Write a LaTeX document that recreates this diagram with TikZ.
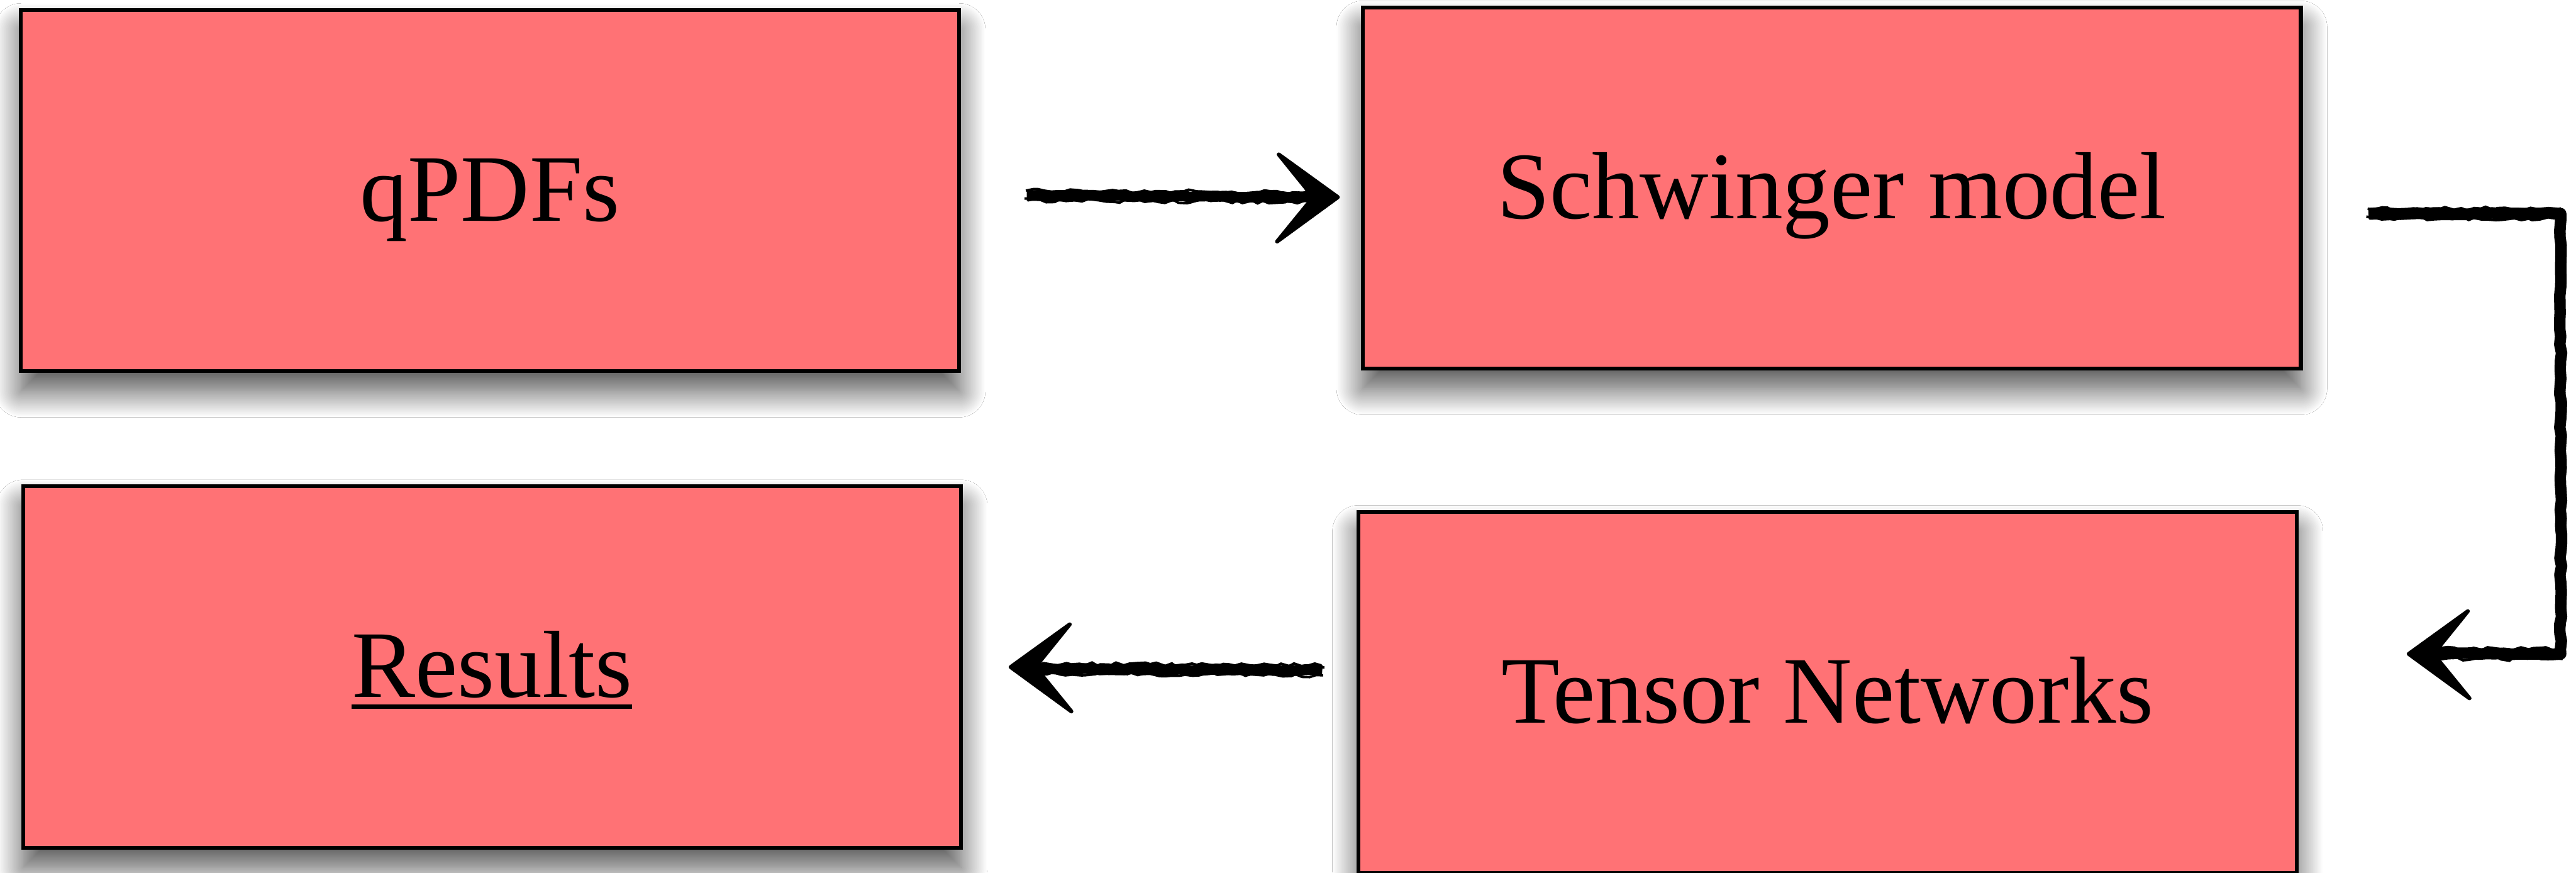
\documentclass[tikz,border=0pt]{standalone}
\usepackage{fontspec}
\setmainfont{Liberation Serif}
\usetikzlibrary{calc,shadows.blur,decorations.pathmorphing}
\definecolor{boxred}{RGB}{255,114,117}
\newcommand\mythickul[1]{\setbox0\hbox{#1}\rlap{\rule[-7pt]{\wd0}{2.6pt}}\box0}
\newcommand\roughpath[2]{%
  \draw[sketchmain,line width=#1] #2;
  \foreach \dx/\dy in {1.3/1.8,-1.3/-1.8,0.5/-3,-0.5/3}{%
    \draw[sketchthin,transform canvas={xshift=\dx pt,yshift=\dy pt}] #2;}%
}
\newcommand\chevron[2]{% tip name, direction (+1 right-pointing, -1 left-pointing)
  \filldraw[line width=2.4pt,line join=round]
    (#1) -- ($(#1)+(-36*#2,-26)$) -- ($(#1)+(-15*#2,0)$) -- ($(#1)+(-37*#2,27)$) -- cycle;
}
\begin{document}
\begin{tikzpicture}[x=1pt,y=-1pt,
  box/.style={rectangle, draw=black, line width=2.3pt, fill=boxred,
    minimum width=571pt, minimum height=220pt, inner sep=0pt,
    text height=37pt, text depth=0pt,
    font=\fontsize{58}{62}\selectfont,
    blur shadow={shadow xshift=0pt, shadow yshift=-12pt, shadow blur radius=16pt,
      shadow blur steps=30, shadow opacity=70}},
  sketchmain/.style={line join=round, decorate,
    decoration={random steps, segment length=5pt, amplitude=0.6pt}},
  sketchthin/.style={line width=1.5pt, decorate,
    decoration={random steps, segment length=4pt, amplitude=1.2pt}}]
\pgfmathsetseed{11}
\useasboundingbox (0,0) rectangle (1568,531);
\fill[white] (0,0) rectangle (1568,531);

\node[box] (q) at (298.3,116) {qPDFs};
\node[box] (s) at (1115,114.5) {Schwinger model};
\node[box] (r) at (299.5,406) {\mythickul{Results}};
\node[box] (t) at (1112.5,421.5) {Tensor Networks};

% arrow qPDFs -> Schwinger
\coordinate (a1s) at ($(q.east)+(40,3)$);
\coordinate (a1t) at ($(s.west)+(-14,5.5)$);
\roughpath{6.5pt}{(a1s) -- ($(a1t)+(-12,0)$)}
\chevron{a1t}{1}

% arrow Schwinger -> Tensor Networks
\coordinate (a2s) at ($(s.east)+(40,15.5)$);
\coordinate (a2t) at ($(t.east)+(67,-23.5)$);
\roughpath{7pt}{(a2s) -- ++(117,0) |- ($(a2t)+(12,0)$)}
\chevron{a2t}{-1}

% arrow Tensor Networks -> Results
\coordinate (a3s) at ($(t.west)+(-21,-13.5)$);
\coordinate (a3t) at ($(r.east)+(29,0)$);
\roughpath{6.5pt}{(a3s) -- ($(a3t)+(12,1)$)}
\chevron{a3t}{-1}
\end{tikzpicture}
\end{document}
